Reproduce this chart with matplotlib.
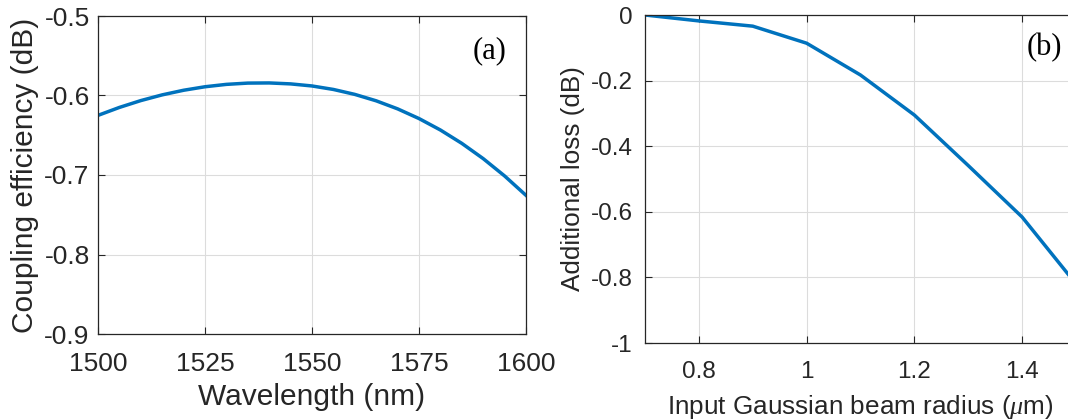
import matplotlib.pyplot as plt
import numpy as np

# --- data ---
wavelength = [1500, 1505, 1510, 1515, 1520, 1525, 1530, 1535, 1540, 1545, 1550,
              1555, 1560, 1565, 1570, 1575, 1580, 1585, 1590, 1595, 1600]
coupling_eff = [-0.6250, -0.6150, -0.6064, -0.5992, -0.5934, -0.5890, -0.5860,
                -0.5844, -0.5842, -0.5854, -0.5880, -0.5924, -0.5986, -0.6067,
                -0.6168, -0.6290, -0.6434, -0.6602, -0.6794, -0.7012, -0.7256]

beam_radius = [0.7, 0.8, 0.9, 1.0, 1.1, 1.2, 1.3, 1.4, 1.5]
add_loss = [0.0, -0.018, -0.034, -0.086, -0.183, -0.305, -0.459, -0.616, -0.82]

BLUE = '#0072BD'
DARK = '#262626'

plt.rcParams['font.family'] = ['Liberation Sans', 'DejaVu Sans']
plt.rcParams['mathtext.fontset'] = 'custom'
plt.rcParams['mathtext.it'] = 'Liberation Serif:italic'


def style_axes(ax, size, xpad, ypad):
    ax.grid(True, color='#dcdcdc', linewidth=0.8)
    ax.set_axisbelow(True)
    ax.tick_params(direction='in', top=True, right=True, labelsize=size,
                   colors=DARK, length=5, width=0.8)
    ax.tick_params(axis='x', pad=xpad)
    ax.tick_params(axis='y', pad=ypad)
    for s in ax.spines.values():
        s.set_color(DARK)
        s.set_linewidth(0.9)


fig = plt.figure(figsize=(10.68, 4.19), dpi=100)

# --- (a) coupling efficiency vs wavelength ---
ax1 = fig.add_axes([98 / 1068, 1 - 334 / 419, 428 / 1068, 318 / 419])
ax1.plot(wavelength, coupling_eff, color=BLUE, linewidth=2.5)
ax1.set_xlim(1500, 1600)
ax1.set_ylim(-0.9, -0.5)
ax1.set_xticks([1500, 1525, 1550, 1575, 1600])
ax1.set_yticks([-0.9, -0.8, -0.7, -0.6, -0.5])
ax1.set_yticklabels(['-0.9', '-0.8', '-0.7', '-0.6', '-0.5'])
ax1.set_xlabel('Wavelength (nm)', fontsize=21.5, color=DARK, labelpad=5)
ax1.set_ylabel('Coupling efficiency (dB)', fontsize=21.5, color=DARK, labelpad=4)
ax1.text(0.914, 0.89, '(a)', transform=ax1.transAxes, ha='center', va='center',
         fontsize=22, family='Liberation Serif', color='black')
style_axes(ax1, 19, 13, 6)

# --- (b) additional loss vs beam radius (panel cut at the right edge) ---
ax2 = fig.add_axes([645 / 1068, 1 - 343 / 419, 431 / 1068, 328 / 419])
ax2.plot(beam_radius, add_loss, color=BLUE, linewidth=2.5)
ax2.set_xlim(0.7, 1.5)
ax2.set_ylim(-1, 0)
ax2.set_xticks([0.8, 1.0, 1.2, 1.4])
ax2.set_xticklabels(['0.8', '1', '1.2', '1.4'])
ax2.set_yticks([-1, -0.8, -0.6, -0.4, -0.2, 0])
ax2.set_yticklabels(['-1', '-0.8', '-0.6', '-0.4', '-0.2', '0'])
ax2.set_xlabel(r'Input Gaussian beam radius ($\mu$m)', fontsize=18.8, color=DARK, labelpad=7)
ax2.set_ylabel('Additional loss (dB)', fontsize=18.8, color=DARK, labelpad=4)
ax2.text(0.927, 0.90, '(b)', transform=ax2.transAxes, ha='center', va='center',
         fontsize=22, family='Liberation Serif', color='black')
style_axes(ax2, 17.5, 13, 9)

fig.savefig('out.png', dpi=100)
